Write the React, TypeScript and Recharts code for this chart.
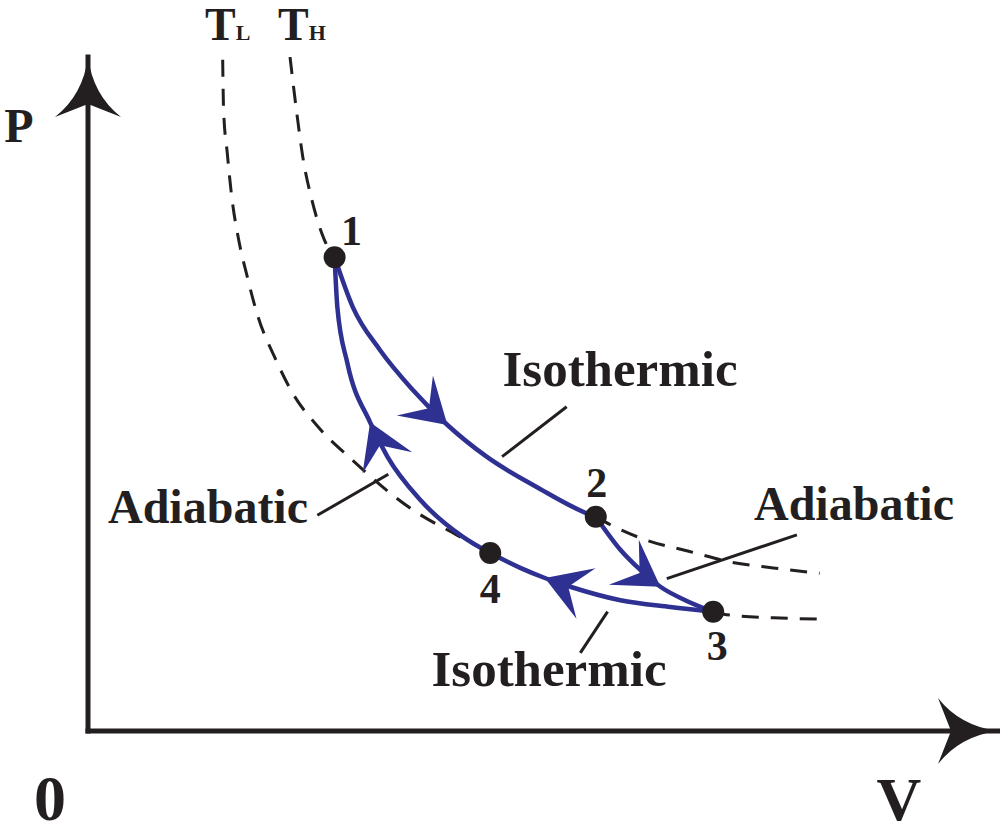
import React from "react";
import {
  ComposedChart,
  Line,
  ReferenceDot,
  ReferenceLine,
  Scatter,
  XAxis,
  YAxis,
} from "recharts";

const INK = "#231f20";
const BLUE = "#2e3192";
const SERIF = "'Liberation Serif', 'Times New Roman', serif";

// state points of the cycle (V, P)
const STATE_NAMES = ["1", "2", "3", "4"];
const STATE_V = [2.71, 5.58, 6.87, 4.42];
const STATE_P = [7.03, 3.18, 1.77, 2.64];

// dashed isotherms
const TH_TOP_V = [2.22, 2.3, 2.36, 2.46, 2.6, 2.71];
const TH_TOP_P = [10.0, 9.11, 8.52, 7.88, 7.28, 7.03];
const TH_TAIL_V = [5.58, 5.74, 6.14, 6.62, 7.05, 7.53, 8.04];
const TH_TAIL_P = [3.18, 3.06, 2.83, 2.66, 2.51, 2.42, 2.34];
const TL_TOP_V = [1.48, 1.49, 1.53, 1.58, 1.65, 1.75, 1.87, 2.05, 2.25, 2.53, 2.88, 3.57, 4.05, 4.42];
const TL_TOP_P = [9.96, 9.21, 8.58, 7.92, 7.33, 6.74, 6.14, 5.55, 5.01, 4.51, 4.05, 3.28, 2.91, 2.64];
const TL_TAIL_V = [6.87, 7.05, 7.53, 8.1];
const TL_TAIL_P = [1.77, 1.72, 1.68, 1.66];

// the cycle, in the order it is travelled
const ISO_HOT_V = [2.71, 2.91, 3.21, 3.57, 3.95, 4.38, 4.93, 5.48, 5.58];
const ISO_HOT_P = [7.03, 6.29, 5.65, 5.06, 4.54, 4.07, 3.62, 3.23, 3.18];
const ADIA_EXP_V = [5.58, 5.85, 6.07, 6.29, 6.58, 6.87];
const ADIA_EXP_P = [3.18, 2.69, 2.39, 2.14, 1.93, 1.77];
const ISO_COLD_V = [6.87, 6.4, 5.85, 5.3, 5.02, 4.75, 4.42];
const ISO_COLD_P = [1.77, 1.84, 1.94, 2.14, 2.27, 2.42, 2.64];
const ADIA_COMP_V = [4.42, 4.12, 3.65, 3.29, 3.1, 2.85, 2.74, 2.71];
const ADIA_COMP_P = [2.64, 2.88, 3.43, 4.07, 4.58, 5.46, 6.29, 7.03];

// leader lines from the labels to the curves
const LEADERS = [
  [5.26, 4.81, 4.55, 4.07],
  [7.79, 2.91, 6.36, 2.26],
  [5.71, 1.77, 5.41, 1.16],
  [2.52, 3.2, 3.3, 3.81],
];

const pts = (v: number[], p: number[]) => v.map((x, i) => ({ v: x, p: p[i] }));
const states = STATE_NAMES.map((name, i) => ({ name, v: STATE_V[i], p: STATE_P[i] }));

const labelOffset: Record<string, [number, number]> = {
  "1": [17, -12],
  "2": [1, -20],
  "3": [4, 48],
  "4": [0, 50],
};

function arrowDot(at: number) {
  const seen: { x: number; y: number }[] = [];
  return (props: any) => {
    const { index, cx, cy, points } = props;
    seen[index] = { x: cx, y: cy };
    if (index !== at) return <g key={`d-${index}`} />;
    const list = points ?? seen;
    const a = list[index - 1];
    const b = points ? points[index + 1] ?? points[index] : seen[index];
    const ang = (Math.atan2(b.y - a.y, b.x - a.x) * 180) / Math.PI;
    return (
      <path
        key={`d-${index}`}
        d="M0,0 L-44,-27 L-25,0 L-44,27 Z"
        transform={`translate(${cx},${cy}) rotate(${ang})`}
        fill={BLUE}
      />
    );
  };
}

const axisArrow = (angle: number) => (props: any) => (
  <path
    d="M0,0 Q-38,-5 -60,-33 L-47,0 L-60,33 Q-38,5 0,0 Z"
    transform={`translate(${props.cx},${props.cy}) rotate(${angle})`}
    fill={INK}
  />
);

function StateDot(props: any) {
  const { cx, cy, payload } = props;
  const [dx, dy] = labelOffset[payload.name];
  return (
    <g>
      <circle cx={cx} cy={cy} r={11} fill={INK} />
      <text
        x={cx + dx}
        y={cy + dy}
        textAnchor="middle"
        fontFamily={SERIF}
        fontWeight="bold"
        fontSize={42}
        fill={INK}
      >
        {payload.name}
      </text>
    </g>
  );
}

const dashed = {
  type: "monotone" as const,
  dataKey: "p",
  stroke: INK,
  strokeWidth: 3,
  strokeDasharray: "17 12",
  dot: false,
  activeDot: false,
  isAnimationActive: false,
};

const cycle = {
  type: "monotone" as const,
  dataKey: "p",
  stroke: BLUE,
  strokeWidth: 4.5,
  activeDot: false,
  isAnimationActive: false,
};

function Note({ x, y, children, size = 48 }: { x: number; y: number; children: React.ReactNode; size?: number }) {
  return (
    <text x={x} y={y} textAnchor="middle" fontFamily={SERIF} fontWeight="bold" fontSize={size} fill={INK}>
      {children}
    </text>
  );
}

export default function App() {
  return (
    <div style={{ position: "absolute", left: 0, top: 0, width: 1000, height: 838, background: "#fff" }}>
      <ComposedChart width={1000} height={838} margin={{ top: 57, right: 2, bottom: 77, left: 58 }}>
        <XAxis
          type="number"
          dataKey="v"
          domain={[0, 10]}
          height={30}
          tick={false}
          tickLine={false}
          axisLine={{ stroke: INK, strokeWidth: 5, strokeLinecap: "square" }}
          allowDataOverflow
        />
        <YAxis
          type="number"
          dataKey="p"
          domain={[0, 10]}
          width={30}
          tick={false}
          tickLine={false}
          axisLine={{ stroke: INK, strokeWidth: 5, strokeLinecap: "square" }}
          allowDataOverflow
        />
        <Line {...dashed} data={pts(TH_TOP_V, TH_TOP_P)} />
        <Line {...dashed} data={pts(TH_TAIL_V, TH_TAIL_P)} />
        <Line {...dashed} data={pts(TL_TOP_V, TL_TOP_P)} />
        <Line {...dashed} data={pts(TL_TAIL_V, TL_TAIL_P)} />
        {LEADERS.map(([v1, p1, v2, p2], i) => (
          <ReferenceLine
            key={i}
            segment={[
              { x: v1, y: p1 },
              { x: v2, y: p2 },
            ]}
            stroke={INK}
            strokeWidth={3}
          />
        ))}
        <Line {...cycle} data={pts(ISO_HOT_V, ISO_HOT_P)} dot={arrowDot(4)} />
        <Line {...cycle} data={pts(ADIA_EXP_V, ADIA_EXP_P)} dot={arrowDot(3)} />
        <Line {...cycle} data={pts(ISO_COLD_V, ISO_COLD_P)} dot={arrowDot(4)} />
        <Line {...cycle} data={pts(ADIA_COMP_V, ADIA_COMP_P)} dot={arrowDot(4)} />
        <Scatter data={states} dataKey="p" shape={StateDot} isAnimationActive={false} />
        <ReferenceDot x={10} y={0} r={0} shape={axisArrow(0)} />
        <ReferenceDot x={0} y={10} r={0} shape={axisArrow(-90)} />
      </ComposedChart>
      <svg width={1000} height={838} style={{ position: "absolute", left: 0, top: 0, pointerEvents: "none" }}>
        <Note x={19} y={142}>P</Note>
        <Note x={50} y={820} size={64}>0</Note>
        <Note x={899} y={820} size={62}>V</Note>
        <text x={205} y={40} fontFamily={SERIF} fontWeight="bold" fontSize={46} fill={INK}>
          T<tspan fontSize={22}>L</tspan>
        </text>
        <text x={278} y={40} fontFamily={SERIF} fontWeight="bold" fontSize={46} fill={INK}>
          T<tspan fontSize={22}>H</tspan>
        </text>
        <Note x={620} y={386} size={51}>Isothermic</Note>
        <Note x={549} y={686} size={51}>Isothermic</Note>
        <Note x={208} y={523}>Adiabatic</Note>
        <Note x={854} y={520}>Adiabatic</Note>
      </svg>
    </div>
  );
}
